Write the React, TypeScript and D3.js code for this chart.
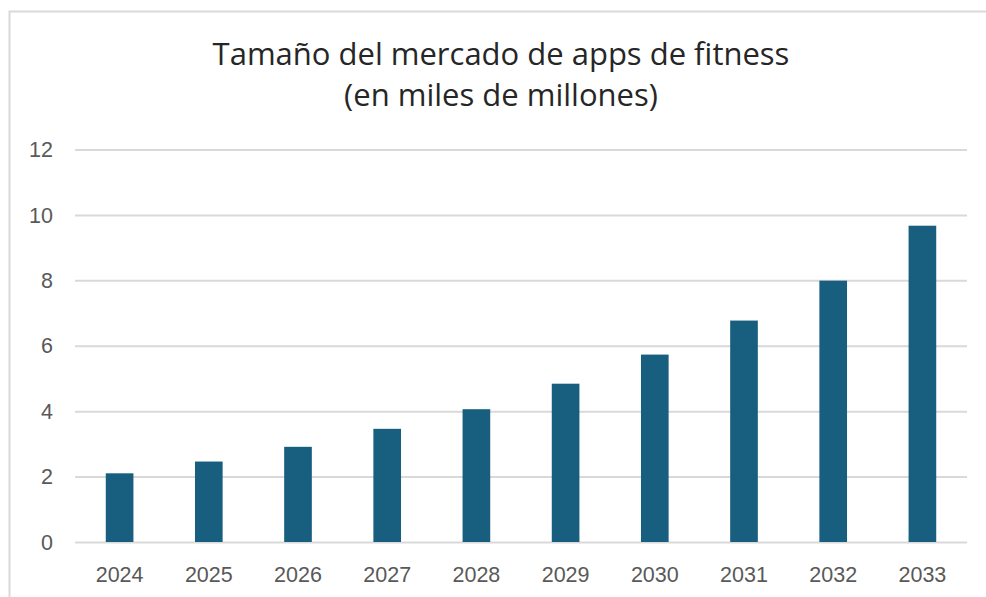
import { useEffect, useRef } from "react";
import * as d3 from "d3";

const years = ["2024", "2025", "2026", "2027", "2028", "2029", "2030", "2031", "2032", "2033"];
const marketSize = [2.1, 2.46, 2.91, 3.46, 4.06, 4.84, 5.73, 6.77, 7.99, 9.67];
const yTicks = [0, 2, 4, 6, 8, 10, 12];
const titleLines = ["Tamaño del mercado de apps de fitness", "(en miles de millones)"];

export default function App() {
  const ref = useRef<SVGSVGElement | null>(null);

  useEffect(() => {
    if (!ref.current) return;
    const width = 986;
    const height = 597;
    const margin = { top: 149.5, right: 19, bottom: 55, left: 75 };

    const svg = d3.select(ref.current);
    svg.selectAll("*").remove();

    // chart frame (only top and left edges are visible)
    svg.append("rect")
      .attr("x", 9.5)
      .attr("y", 11.5)
      .attr("width", 1000)
      .attr("height", 620)
      .attr("fill", "#fff")
      .attr("stroke", "#d9d9d9")
      .attr("stroke-width", 2);

    const x = d3.scaleBand()
      .domain(years)
      .range([margin.left, width - margin.right])
      .paddingInner(0.69)
      .paddingOuter(0.345);

    const y = d3.scaleLinear()
      .domain([0, 12])
      .range([height - margin.bottom, margin.top]);

    // Title
    svg.append("g")
      .selectAll("text")
      .data(titleLines)
      .enter()
      .append("text")
      .attr("x", 501)
      .attr("y", (d, i) => 64.5 + i * 41.5)
      .attr("text-anchor", "middle")
      .attr("fill", "#262626")
      .style("font-family", "'Open Sans', 'Noto Sans', sans-serif")
      .style("font-size", "31px")
      .text(d => d);

    // Horizontal grid lines
    svg.append("g")
      .attr("transform", `translate(${margin.left},0)`)
      .call(d3.axisLeft(y)
        .tickValues(yTicks)
        .tickSize(-(width - margin.left - margin.right))
        .tickFormat(() => "")
      )
      .call(g => g.select(".domain").remove())
      .selectAll("line")
      .attr("stroke", "#d9d9d9")
      .attr("stroke-width", 2);

    // Bars
    svg.append("g")
      .selectAll("rect")
      .data(marketSize)
      .enter()
      .append("rect")
      .attr("x", (d, i) => x(years[i])!)
      .attr("y", d => y(d))
      .attr("width", x.bandwidth())
      .attr("height", d => y(0) - y(d))
      .attr("fill", "#175e7f");

    // Y axis labels
    svg.append("g")
      .selectAll("text")
      .data(yTicks)
      .enter()
      .append("text")
      .attr("x", 53)
      .attr("y", d => y(d))
      .attr("dy", "0.36em")
      .attr("text-anchor", "end")
      .attr("fill", "#595959")
      .style("font-family", "'Liberation Sans', Arial, sans-serif")
      .style("font-size", "21.5px")
      .text(d => d);

    // X axis labels
    svg.append("g")
      .selectAll("text")
      .data(years)
      .enter()
      .append("text")
      .attr("x", d => x(d)! + x.bandwidth() / 2)
      .attr("y", 582)
      .attr("text-anchor", "middle")
      .attr("fill", "#595959")
      .style("font-family", "'Liberation Sans', Arial, sans-serif")
      .style("font-size", "21.5px")
      .text(d => d);
  }, []);

  return (
    <svg
      ref={ref}
      width={986}
      height={597}
      style={{ position: "absolute", left: 0, top: 0, background: "#fff" }}
    />
  );
}
